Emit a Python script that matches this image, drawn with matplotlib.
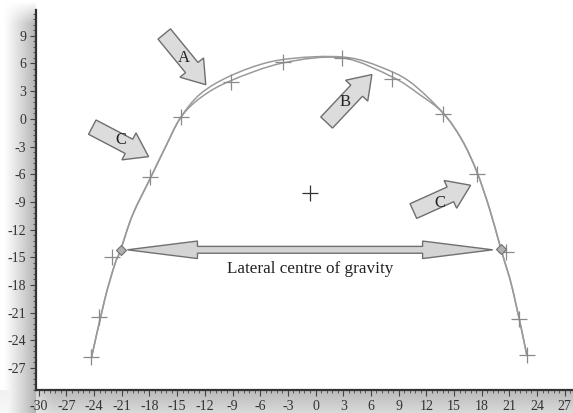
import numpy as np
import matplotlib
matplotlib.use("Agg")
import matplotlib.pyplot as plt
from matplotlib.patches import FancyArrow, Polygon, PathPatch
from matplotlib.path import Path
from matplotlib.ticker import MultipleLocator

# ---- data ----
outer_x = [-24.27, -22.86, -21.78, -21.13, -19.83, -17.89, -16.26, -14.64, -12.48, -9.23,
           -4.91, -0.26, 3.74, 6.99, 10.23, 13.80, 15.86, 17.48, 18.89, 20.08, 21.37, 22.89]
outer_y = [-25.81, -19.63, -15.84, -14.21, -10.41, -6.40, -3.04, 0.11, 2.71, 4.66,
           6.18, 6.72, 6.61, 5.64, 4.01, 0.65, -2.28, -5.75, -9.87, -14.10, -18.55, -25.60]

inner_x = [-24.27, -22.86, -21.78, -21.13, -19.83, -17.89, -16.26, -14.64, -12.48, -9.23,
           -3.50, 2.88, 8.29, 11.32, 13.80, 15.86, 17.48, 18.89, 20.08, 21.37, 22.89]
inner_y = [-25.81, -19.63, -15.84, -14.21, -10.41, -6.40, -3.04, 0.11, 2.28, 4.12,
           6.07, 6.61, 4.55, 2.60, 0.65, -2.28, -5.75, -9.87, -14.10, -18.55, -25.60]

mark_x = [-24.3, -23.5, -22.1, -17.9, -14.6, -9.2, -3.5, 2.9, 8.3, 13.8, 17.5, 20.6, 22.1, 22.9]
mark_y = [-25.8, -21.5, -15.0, -6.3, 0.2, 4.0, 6.2, 6.6, 4.3, 0.5, -6.0, -14.4, -21.7, -25.6]

centre_x = [-0.6]
centre_y = [-8.0]

diamond_x = [-21.1, 20.1]
diamond_y = [-14.2, -14.1]

# arrows: (tail_x, tail_y, tip_x, tip_y, label, label_x, label_y)
arrow_specs = [
    (-16.4, 9.2, -11.9, 3.7, "A", -14.3, 6.6),
    (-24.2, -0.9, -18.1, -4.1, "C", -21.1, -2.3),
    (1.2, -0.4, 6.1, 4.8, "B", 3.2, 1.8),
    (10.6, -10.0, 16.8, -7.2, "C", 13.5, -9.1),
]

cog_x0, cog_x1, cog_y = -20.4, 19.2, -14.2
cog_label = "Lateral centre of gravity"

xticks = list(range(-30, 28, 3))
yticks = list(range(-27, 10, 3))


def smooth_path(xs, ys):
    """Catmull-Rom curve through the given points as cubic Bezier path."""
    p = np.column_stack([xs, ys]).astype(float)
    n = len(p)
    verts = [p[0]]
    codes = [Path.MOVETO]
    for i in range(n - 1):
        p0 = p[i - 1] if i > 0 else p[i]
        p1, p2 = p[i], p[i + 1]
        p3 = p[i + 2] if i + 2 < n else p[i + 1]
        c1 = p1 + (p2 - p0) / 6.0
        c2 = p2 - (p3 - p1) / 6.0
        verts += [c1, c2, p2]
        codes += [Path.CURVE4] * 3
    return Path(verts, codes)


# ---- figure ----
W, H, DPI = 573, 413, 100
fig = plt.figure(figsize=(W / DPI, H / DPI), dpi=DPI)

left_edge, bottom_edge, top_edge = 36, 390, 10
px = np.arange(W)[None, :] + 0.5
py = np.arange(H)[:, None] + 0.5
sl = np.where(px <= left_edge, 0.30 * np.clip((px - 4) / (left_edge - 4), 0, 1) ** 1.1, 0.0)
sl = sl * np.clip((py - 2) / 22.0, 0, 1)
sb = np.where(py >= bottom_edge, 0.27 * (1 - 0.45 * (py - bottom_edge) / (H - bottom_edge)), 0.0)
sb = sb * np.clip((px - 4) / 50.0, 0.2, 1)
s = np.maximum(sl, sb)
img = np.clip(1 - s, 0, 1)
rgb = np.dstack([img, img, img])
fig.figimage(rgb, xo=0, yo=0, origin="upper", zorder=-10)

ax = fig.add_axes([left_edge / W, (H - bottom_edge) / H, 1 - left_edge / W,
                   (bottom_edge - top_edge) / H])
ax.set_facecolor("white")
ax.set_xlim(-30.3, 27.9)
ax.set_ylim(-29.4, 11.8)

curve_col = "#9a9a9a"
for cx, cy in ((outer_x, outer_y), (inner_x, inner_y)):
    ax.add_patch(PathPatch(smooth_path(cx, cy), facecolor="none", edgecolor=curve_col,
                           lw=1.1, zorder=2))
ax.plot(mark_x, mark_y, linestyle="none", marker="+", markersize=12, mew=0.9,
        color="#8a8a8a", zorder=3)
ax.plot(centre_x, centre_y, linestyle="none", marker="+", markersize=11, mew=0.9,
        color="#333333", zorder=3)
ax.plot(diamond_x, diamond_y, linestyle="none", marker="D", markersize=5.5,
        markerfacecolor="#b0b0b0", markeredgecolor="#707070", mew=0.8, zorder=4)

afc, aec = "#dcdcdc", "#6e6e6e"
serif = ["Liberation Serif", "DejaVu Serif"]
for tx, ty, hx, hy, lab, lx, ly in arrow_specs:
    ar = FancyArrow(tx, ty, hx - tx, hy - ty, width=1.75, head_width=3.3,
                    head_length=2.4, length_includes_head=True,
                    facecolor=afc, edgecolor=aec, lw=1.0, zorder=5)
    ax.add_patch(ar)
    ax.text(lx, ly, lab, family=serif, fontsize=12, color="#222222",
            ha="center", va="center", zorder=6)

# double-headed arrow
hw, hh, hl = 0.37, 0.95, 7.6
pts = [(cog_x0, cog_y), (cog_x0 + hl, cog_y + hh), (cog_x0 + hl, cog_y + hw),
       (cog_x1 - hl, cog_y + hw), (cog_x1 - hl, cog_y + hh), (cog_x1, cog_y),
       (cog_x1 - hl, cog_y - hh), (cog_x1 - hl, cog_y - hw),
       (cog_x0 + hl, cog_y - hw), (cog_x0 + hl, cog_y - hh)]
ax.add_patch(Polygon(pts, closed=True, facecolor="#d4d4d4", edgecolor="#707070",
                     lw=1.0, zorder=5))
ax.text((cog_x0 + cog_x1) / 2, cog_y - 2.1, cog_label, family=serif, fontsize=12.3,
        color="#222222", ha="center", va="center", zorder=6)

# axes styling
for side in ("top", "right"):
    ax.spines[side].set_visible(False)
for side in ("left", "bottom"):
    ax.spines[side].set_color("#333333")
    ax.spines[side].set_linewidth(1.6)

ax.set_xticks(xticks)
ax.set_yticks(yticks)
ax.set_xticklabels([str(v) for v in xticks])
ax.set_yticklabels([str(v) for v in yticks])
ax.xaxis.set_minor_locator(MultipleLocator(0.6))
ax.yaxis.set_minor_locator(MultipleLocator(0.6))
ax.tick_params(axis="both", which="major", direction="out", length=4, width=0.8,
               color="#444444", labelsize=10, labelcolor="#333333", pad=3)
ax.tick_params(axis="both", which="minor", direction="out", length=2.5, width=0.7,
               color="#555555")
for lab in ax.get_xticklabels() + ax.get_yticklabels():
    lab.set_family(serif)

fig.savefig("out.png", dpi=DPI)
